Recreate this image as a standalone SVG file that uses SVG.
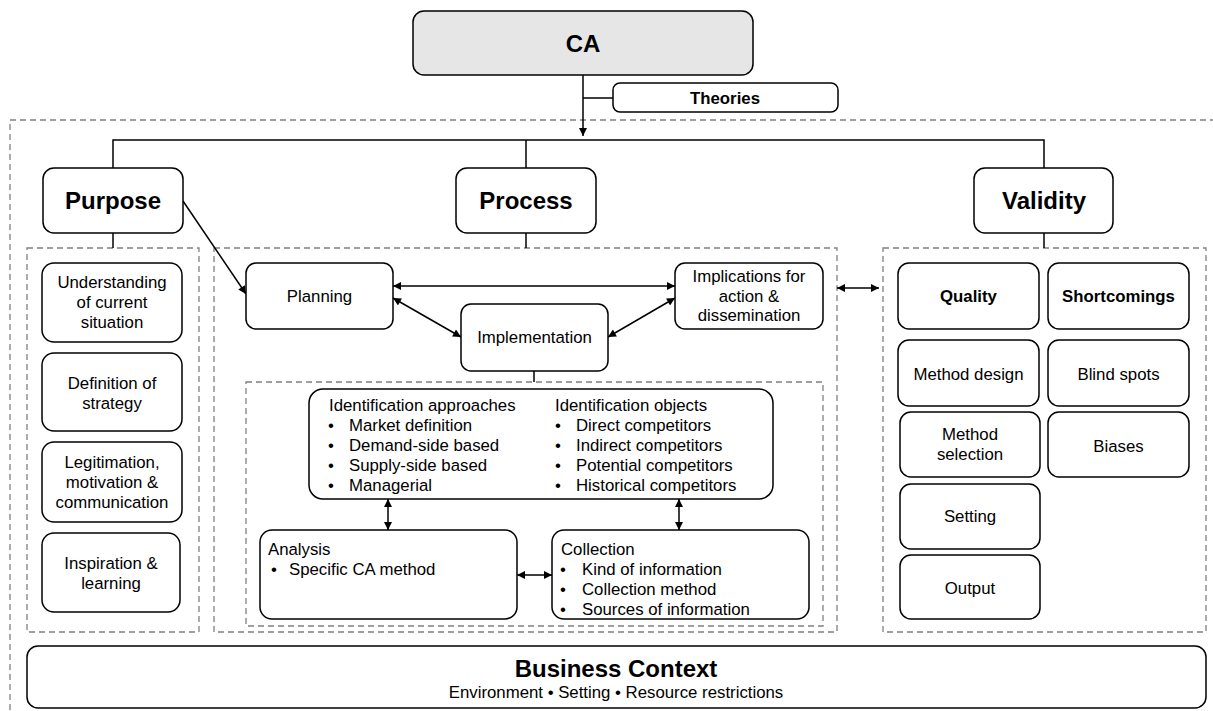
<svg xmlns="http://www.w3.org/2000/svg" width="1213" height="711" viewBox="0 0 1213 711">
<defs>
<style>
text{font-family:"Liberation Sans",Arial,sans-serif;fill:#000;}
.t{font-size:16.8px;}
.c{text-anchor:middle;}
.b{font-weight:bold;}
.big{font-size:24px;font-weight:bold;text-anchor:middle;}
.box{fill:#fff;stroke:#000;stroke-width:1.5;}
.dash{fill:none;stroke:#808080;stroke-width:1.3;stroke-dasharray:6,4;}
.ln{fill:none;stroke:#000;stroke-width:1.5;}
.ar{fill:none;stroke:#000;stroke-width:1.5;marker-end:url(#ah);}
.dar{fill:none;stroke:#000;stroke-width:1.5;marker-end:url(#ah);marker-start:url(#ah);}
</style>
<marker id="ah" viewBox="0 0 10 10" refX="10" refY="5" markerWidth="9" markerHeight="8" markerUnits="userSpaceOnUse" orient="auto-start-reverse">
<path d="M0,0 L10,5 L0,10 z" fill="#000"/>
</marker>
</defs>
<rect width="1213" height="711" fill="#fff"/>

<g id="containers">
<rect class="dash" x="10" y="120" width="1220" height="620"/>
<rect class="dash" x="27" y="248" width="172" height="384"/>
<rect class="dash" x="214" y="248" width="623" height="384"/>
<rect class="dash" x="246" y="382" width="577" height="244"/>
<rect class="dash" x="883" y="248" width="323" height="384"/>
</g>

<g id="connectors">
<path class="ar" d="M583,75 V136"/>
<path class="ln" d="M583,98 H613"/>
<path class="ln" d="M113,168 V140 H1044 V168"/>
<path class="ln" d="M526,140 V168"/>
<path class="ln" d="M113,233 V248"/>
<path class="ln" d="M526,233 V248"/>
<path class="ln" d="M1044,233 V248"/>
<path class="ln" d="M534,371 V382"/>
<path class="ar" d="M183,201 L246,294"/>
<path class="dar" d="M393,286 H675"/>
<path class="dar" d="M393,298 L461,337"/>
<path class="dar" d="M608,337 L675,298"/>
<path class="dar" d="M837,288 H879"/>
<path class="dar" d="M388,499 V530"/>
<path class="dar" d="M679,499 V530"/>
<path class="dar" d="M517,575 H552"/>
</g>

<g id="ca">
<rect x="413" y="11" width="340" height="64" rx="11" fill="#e6e6e6" stroke="#000" stroke-width="1.5"/>
<text class="big" x="583" y="52">CA</text>
</g>
<g id="theories">
<rect class="box" x="613" y="83" width="225" height="29" rx="7"/>
<text class="t b c" x="725" y="104">Theories</text>
</g>

<g id="purpose">
<rect class="box" x="43" y="168" width="140" height="65" rx="11"/>
<text class="big" x="113" y="209">Purpose</text>
</g>
<g id="process">
<rect class="box" x="456" y="168" width="140" height="65" rx="11"/>
<text class="big" x="526" y="209">Process</text>
</g>
<g id="validity">
<rect class="box" x="974" y="168" width="139" height="65" rx="11"/>
<text class="big" x="1044" y="209">Validity</text>
</g>

<g id="understanding">
<rect class="box" x="42" y="263" width="140" height="79" rx="12"/>
<text class="t c" x="112" y="288">Understanding</text>
<text class="t c" x="112" y="308">of current</text>
<text class="t c" x="112" y="328">situation</text>
</g>
<g id="definition">
<rect class="box" x="42" y="353" width="140" height="78" rx="12"/>
<text class="t c" x="112" y="389">Definition of</text>
<text class="t c" x="112" y="409">strategy</text>
</g>
<g id="legitimation">
<rect class="box" x="42" y="442" width="140" height="80" rx="12"/>
<text class="t c" x="112" y="468">Legitimation,</text>
<text class="t c" x="112" y="488">motivation &amp;</text>
<text class="t c" x="112" y="508">communication</text>
</g>
<g id="inspiration">
<rect class="box" x="42" y="533" width="138" height="79" rx="12"/>
<text class="t c" x="111" y="569">Inspiration &amp;</text>
<text class="t c" x="111" y="589">learning</text>
</g>

<g id="planning">
<rect class="box" x="246" y="263" width="147" height="66" rx="10"/>
<text class="t c" x="319.5" y="302">Planning</text>
</g>
<g id="implications">
<rect class="box" x="675" y="263" width="148" height="66" rx="10"/>
<text class="t c" x="749" y="282">Implications for</text>
<text class="t c" x="749" y="302">action &amp;</text>
<text class="t c" x="749" y="321">dissemination</text>
</g>
<g id="implementation">
<rect class="box" x="461" y="304" width="147" height="67" rx="10"/>
<text class="t c" x="534.5" y="343">Implementation</text>
</g>

<g id="identification">
<rect class="box" x="309" y="389" width="464" height="110" rx="14"/>
<text class="t" x="329" y="411">Identification approaches</text>
<text class="t c" x="331" y="431">•</text><text class="t" x="349" y="431">Market definition</text>
<text class="t c" x="331" y="451">•</text><text class="t" x="349" y="451">Demand-side based</text>
<text class="t c" x="331" y="471">•</text><text class="t" x="349" y="471">Supply-side based</text>
<text class="t c" x="331" y="491">•</text><text class="t" x="349" y="491">Managerial</text>
<text class="t" x="555" y="411">Identification objects</text>
<text class="t c" x="558" y="431">•</text><text class="t" x="576" y="431">Direct competitors</text>
<text class="t c" x="558" y="451">•</text><text class="t" x="576" y="451">Indirect competitors</text>
<text class="t c" x="558" y="471">•</text><text class="t" x="576" y="471">Potential competitors</text>
<text class="t c" x="558" y="491">•</text><text class="t" x="576" y="491">Historical competitors</text>
</g>
<g id="analysis">
<rect class="box" x="260" y="530" width="257" height="89" rx="12"/>
<text class="t" x="268" y="555">Analysis</text>
<text class="t c" x="274" y="575">•</text><text class="t" x="289" y="575">Specific CA method</text>
</g>
<g id="collection">
<rect class="box" x="552" y="530" width="257" height="89" rx="12"/>
<text class="t" x="561" y="555">Collection</text>
<text class="t c" x="563" y="575">•</text><text class="t" x="582" y="575">Kind of information</text>
<text class="t c" x="563" y="595">•</text><text class="t" x="582" y="595">Collection method</text>
<text class="t c" x="563" y="615">•</text><text class="t" x="582" y="615">Sources of information</text>
</g>

<g id="quality">
<rect class="box" x="898" y="263" width="141" height="66" rx="11"/>
<text class="t b c" x="968.5" y="302">Quality</text>
</g>
<g id="shortcomings">
<rect class="box" x="1048" y="263" width="141" height="66" rx="11"/>
<text class="t b c" x="1118.5" y="302">Shortcomings</text>
</g>
<g id="method-design">
<rect class="box" x="898" y="340" width="141" height="66" rx="11"/>
<text class="t c" x="968.5" y="380">Method design</text>
</g>
<g id="blind-spots">
<rect class="box" x="1048" y="340" width="141" height="66" rx="11"/>
<text class="t c" x="1118.5" y="380">Blind spots</text>
</g>
<g id="method-selection">
<rect class="box" x="900" y="412" width="140" height="65" rx="11"/>
<text class="t c" x="970" y="440">Method</text>
<text class="t c" x="970" y="460">selection</text>
</g>
<g id="biases">
<rect class="box" x="1048" y="412" width="141" height="65" rx="11"/>
<text class="t c" x="1118.5" y="452">Biases</text>
</g>
<g id="setting">
<rect class="box" x="900" y="484" width="140" height="65" rx="11"/>
<text class="t c" x="970" y="522">Setting</text>
</g>
<g id="output">
<rect class="box" x="900" y="555" width="140" height="64" rx="11"/>
<text class="t c" x="970" y="594">Output</text>
</g>

<g id="business-context">
<rect class="box" x="27" y="646" width="1179" height="62" rx="11"/>
<text class="big" x="616" y="677">Business Context</text>
<text class="t c" x="616" y="698">Environment • Setting • Resource restrictions</text>
</g>
</svg>
